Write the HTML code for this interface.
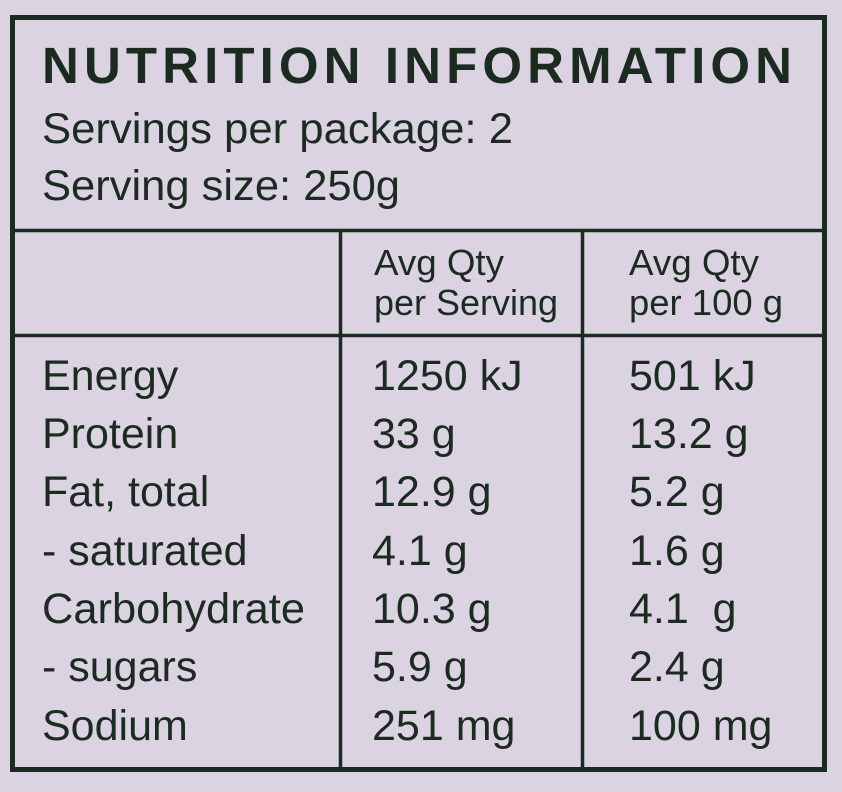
<!DOCTYPE html>
<html><head><style>html,body{margin:0;padding:0;background:#dcd3e2;}svg{display:block}</style></head><body>
<svg width="842" height="792" xmlns="http://www.w3.org/2000/svg" font-family="Liberation Sans, Arial, sans-serif" fill="#1b2b20">
<rect x="0" y="0" width="842" height="792" fill="#dcd3e2"/>
<g stroke="#1b2b20" fill="none">
<rect x="12.5" y="17.5" width="812" height="752" stroke-width="5"/>
<line x1="12" y1="230.5" x2="826" y2="230.5" stroke-width="3.5"/>
<line x1="12" y1="335.5" x2="826" y2="335.5" stroke-width="3.5"/>
<line x1="340.5" y1="230" x2="340.5" y2="770" stroke-width="3.5"/>
<line x1="582.5" y1="230" x2="582.5" y2="770" stroke-width="3.5"/>
</g>
<text x="42" y="83" font-size="51" font-weight="bold" textLength="750" lengthAdjust="spacing">NUTRITION INFORMATION</text>
<text x="42" y="143" font-size="43" textLength="471" lengthAdjust="spacingAndGlyphs">Servings per package: 2</text>
<text x="42" y="200" font-size="43" textLength="358" lengthAdjust="spacingAndGlyphs">Serving size: 250g</text>
<g font-size="36">
<text x="374" y="275" textLength="130" lengthAdjust="spacingAndGlyphs">Avg Qty</text>
<text x="374" y="315" textLength="184" lengthAdjust="spacingAndGlyphs">per Serving</text>
<text x="629" y="275" textLength="130" lengthAdjust="spacingAndGlyphs">Avg Qty</text>
<text x="629" y="315" textLength="154" lengthAdjust="spacingAndGlyphs">per 100 g</text>
</g>
<g font-size="43">
<text x="42" y="390">Energy</text><text x="372" y="390">1250 kJ</text><text x="629" y="390">501 kJ</text>
<text x="42" y="448">Protein</text><text x="372" y="448">33 g</text><text x="629" y="448">13.2 g</text>
<text x="42" y="506">Fat, total</text><text x="372" y="506">12.9 g</text><text x="629" y="506">5.2 g</text>
<text x="42" y="565">- saturated</text><text x="372" y="565">4.1 g</text><text x="629" y="565">1.6 g</text>
<text x="42" y="623" textLength="263" lengthAdjust="spacingAndGlyphs">Carbohydrate</text><text x="372" y="623">10.3 g</text><text x="629" y="623" xml:space="preserve">4.1  g</text>
<text x="42" y="681">- sugars</text><text x="372" y="681">5.9 g</text><text x="629" y="681">2.4 g</text>
<text x="42" y="740">Sodium</text><text x="372" y="740">251 mg</text><text x="629" y="740">100 mg</text>
</g>
</svg>
</body></html>
